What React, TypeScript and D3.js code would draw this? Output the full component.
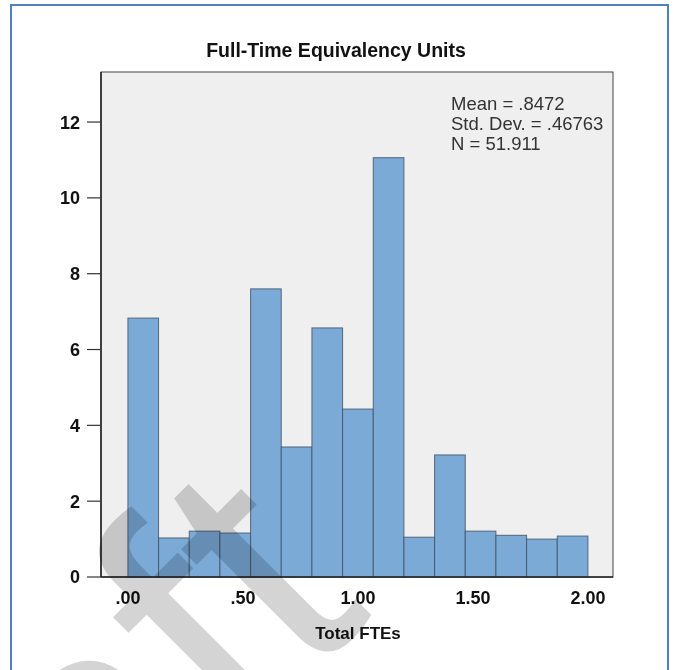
import React, { useEffect } from "react";
import * as d3 from "d3";

// histogram of Total FTEs, 15 bins from 0 to 2
const binWidth = 2 / 15;
const counts = [6.83, 1.03, 1.21, 1.16, 7.6, 3.43, 6.57, 4.43, 11.06, 1.05, 3.22, 1.21, 1.1, 1.0, 1.08];
const yTicks = [0, 2, 4, 6, 8, 10, 12];
const xTicks = [0, 0.5, 1, 1.5, 2];
const xTickLabels = [".00", ".50", "1.00", "1.50", "2.00"];
const statsLines = ["Mean = .8472", "Std. Dev. = .46763", "N = 51.911"];

const W = 679;
const H = 670;
const plot = { left: 101, right: 613, top: 72, bottom: 577 };

export default function App() {
  useEffect(() => {
    document.body.style.margin = "0";
  }, []);

  const x = d3.scaleLinear().domain([-0.117, 2.109]).range([plot.left, plot.right]);
  const y = d3.scaleLinear().domain([0, 13.32]).range([plot.bottom, plot.top]);

  const bins = counts.map((c, i) => ({ x0: i * binWidth, x1: (i + 1) * binWidth, count: c }));
  const font = "Arial, 'Liberation Sans', sans-serif";

  return (
    <svg width={W} height={H} style={{ display: "block", background: "#fff" }}>
      {/* outer frame */}
      <rect x={11} y={5} width={657} height={700} fill="none" stroke="#4f81bd" strokeWidth={2} />

      <text x={336} y={57} textAnchor="middle" fontFamily={font} fontWeight="bold" fontSize={19.5} fill="#111">
        Full-Time Equivalency Units
      </text>

      {/* plot area */}
      <rect
        x={plot.left}
        y={plot.top}
        width={plot.right - plot.left}
        height={plot.bottom - plot.top}
        fill="#efefef"
        stroke="#444"
        strokeWidth={1}
      />

      {bins.map((b, i) => (
        <rect
          key={i}
          x={x(b.x0)}
          y={y(b.count)}
          width={x(b.x1) - x(b.x0)}
          height={y(0) - y(b.count)}
          fill="#7baad7"
          stroke="#3f4f60"
          strokeOpacity={0.8}
          strokeWidth={1}
        />
      ))}

      {/* axes */}
      <line x1={plot.left} x2={plot.left} y1={plot.top} y2={plot.bottom} stroke="#222" strokeWidth={1.5} />
      <line x1={plot.left} x2={plot.right} y1={plot.bottom} y2={plot.bottom} stroke="#222" strokeWidth={1.5} />

      {yTicks.map((t) => (
        <g key={t}>
          <line x1={plot.left - 14} x2={plot.left} y1={y(t)} y2={y(t)} stroke="#333" strokeWidth={1.2} />
          <text
            x={plot.left - 21}
            y={y(t)}
            dy="0.36em"
            textAnchor="end"
            fontFamily={font}
            fontWeight="bold"
            fontSize={18}
            fill="#111"
          >
            {t}
          </text>
        </g>
      ))}

      {xTicks.map((t, i) => (
        <text
          key={t}
          x={x(t)}
          y={plot.bottom + 27}
          textAnchor="middle"
          fontFamily={font}
          fontWeight="bold"
          fontSize={18}
          fill="#111"
        >
          {xTickLabels[i]}
        </text>
      ))}

      <text x={358} y={639} textAnchor="middle" fontFamily={font} fontWeight="bold" fontSize={17} fill="#111">
        Total FTEs
      </text>

      {statsLines.map((s, i) => (
        <text key={s} x={451} y={110 + i * 20} fontFamily={font} fontSize={18.5} fill="#333">
          {s}
        </text>
      ))}

      {/* watermark */}
      <text
        x={374}
        y={614}
        transform="rotate(-45 374 614)"
        textAnchor="end"
        fontFamily="'Liberation Sans', Arial, sans-serif"
        fontSize={345}
        fill="#d4d4d4"
        style={{ mixBlendMode: "multiply" }}
      >
        Draft
      </text>
    </svg>
  );
}
